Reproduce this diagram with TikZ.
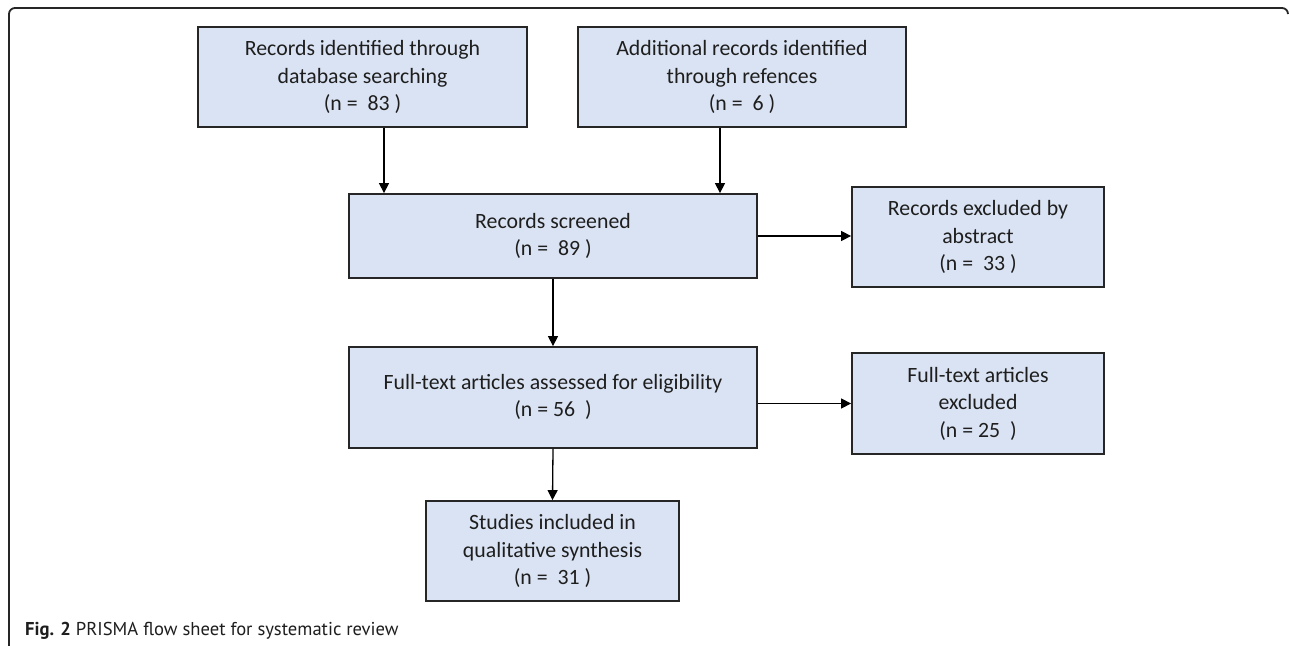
\documentclass[tikz,border=0pt]{standalone}
\usepackage{fontspec}
\setmainfont{Carlito}
\newfontfamily\capfont{PT Sans}
\usetikzlibrary{arrows.meta}
\definecolor{boxfill}{RGB}{218,227,243}
\definecolor{boxline}{RGB}{38,38,38}
\definecolor{txt}{RGB}{30,30,30}
\begin{document}
\begin{tikzpicture}[x=1pt,y=-1pt,
  box/.style={draw=boxline, fill=boxfill, line width=1.8pt, align=center, inner sep=0pt,
    text=txt, font=\fontsize{21.8}{27.5}\selectfont},
  arr/.style={line width=1.3pt, draw=black, -{Triangle[length=10pt,width=10pt]}},
  frameline/.style={line width=1.8pt, draw=black!85}]
\useasboundingbox (0,0) rectangle (1290,645);
\fill[white] (0,0) rectangle (1290,645);
% frame
\draw[frameline, rounded corners=6pt] (9,648) -- (9,8) -- (1288,8) -- (1288,14);
% boxes
\node[box, minimum width=329pt, minimum height=100pt] (b1) at (362.5,77)
  {Records identified through\\database searching\\(n = \ 83 )};
\node[box, minimum width=328pt, minimum height=100pt] (b2) at (742,77)
  {Additional records identified\\through refences\\(n = \ 6 )};
\node[box, minimum width=408pt, minimum height=84pt] (b3) at (553,236)
  {Records screened\\(n = \ 89 )};
\node[box, minimum width=252pt, minimum height=100pt] (b4) at (978,237)
  {Records excluded by\\abstract\\(n = \ 33 )};
\node[box, minimum width=408pt, minimum height=101pt] (b5) at (553,397.5)
  {\raisebox{9pt}{\begin{tabular}{@{}c@{}}Full-text articles assessed for eligibility\\(n = 56 \ )\end{tabular}}};
\node[box, minimum width=252pt, minimum height=101pt] (b6) at (978,403.5)
  {Full-text articles\\excluded\\(n = 25 \ )};
\node[box, minimum width=253pt, minimum height=100pt] (b7) at (552.5,551)
  {Studies included in\\qualitative synthesis\\(n = \ 31 )};
% arrows
\coordinate (a1) at ([xshift=21.5pt]b1.south);
\coordinate (a2) at ([xshift=-22pt]b2.south);
\draw[arr] (a1) -- (a1 |- b3.north);
\draw[arr] (a2) -- (a2 |- b3.north);
\draw[arr] (b3.east) -- (b4.west |- b3.east);
\draw[arr] (b3.south) -- (b5.north);
\draw[arr] (b5.east |- b6.west) -- (b6.west);
\draw[arr] (b5.south) -- (b7.north);
% caption
\node[anchor=base west, inner sep=0pt, text=txt, font=\capfont\fontsize{18.6}{22}\selectfont] (cap) at (25,635)
  {\textbf{Fig. 2} PRISMA flow sheet for systematic review};
\end{tikzpicture}
\end{document}
